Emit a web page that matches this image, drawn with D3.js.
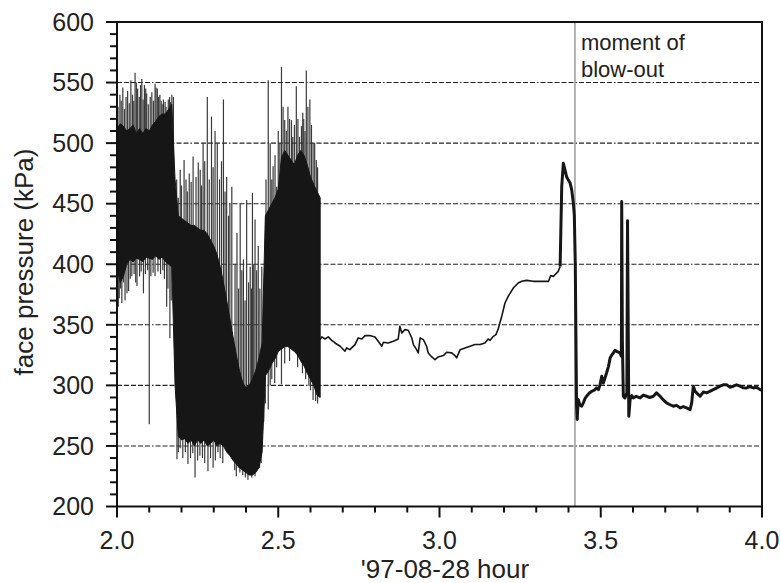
<!DOCTYPE html>
<html>
<head>
<meta charset="utf-8">
<script src="https://cdn.jsdelivr.net/npm/d3@7"></script>
<style>
  body { margin: 0; background: #fff; }
  text { font-family: "Liberation Sans", Arial, sans-serif; fill: #222; }
</style>
</head>
<body>
<div id="chart"></div>
<script>
// dense oscillating record 2.00 - 2.63 h: core envelope of the black band
var bandT = [2.00, 2.01, 2.02, 2.03, 2.04, 2.05, 2.06, 2.07, 2.08, 2.09,
  2.10, 2.11, 2.12, 2.13, 2.14, 2.15, 2.16, 2.17, 2.18, 2.19,
  2.20, 2.21, 2.22, 2.23, 2.24, 2.25, 2.26, 2.27, 2.28, 2.29,
  2.30, 2.31, 2.32, 2.33, 2.34, 2.35, 2.36, 2.37, 2.38, 2.39,
  2.40, 2.41, 2.42, 2.43, 2.44, 2.45, 2.46, 2.47, 2.48, 2.49,
  2.50, 2.51, 2.52, 2.53, 2.54, 2.55, 2.56, 2.57, 2.58, 2.59,
  2.60, 2.61, 2.62, 2.63]
var bandHi = [512, 516, 514, 510, 512, 515, 508, 512, 508, 512,
  510, 515, 518, 522, 524, 524, 528, 532, 470, 440,
  438, 436, 434, 432, 432, 430, 428, 428, 425, 420,
  415, 408, 398, 385, 370, 355, 340, 325, 312, 302,
  298, 300, 305, 312, 322, 335, 440, 445, 450, 455,
  462, 488, 494, 490, 486, 482, 490, 494, 490, 482,
  472, 466, 460, 455]
var bandLo = [398, 385, 390, 400, 404, 402, 405, 404, 402, 406,
  405, 404, 407, 404, 406, 402, 400, 398, 300, 258,
  255, 256, 252, 255, 250, 255, 252, 255, 250, 252,
  255, 250, 252, 250, 245, 242, 238, 235, 232, 230,
  228, 226, 226, 228, 232, 245, 308, 312, 318, 322,
  328, 330, 332, 332, 330, 328, 325, 320, 316, 310,
  305, 300, 292, 290]

// single excursions sticking out of the band
var upT = [2.003, 2.009, 2.013, 2.018, 2.023, 2.028, 2.033, 2.038, 2.043, 2.048,
  2.052, 2.056, 2.060, 2.064, 2.069, 2.073, 2.077, 2.081, 2.085, 2.089,
  2.092, 2.097, 2.103, 2.108, 2.113, 2.118, 2.121, 2.125, 2.129, 2.133,
  2.137, 2.140, 2.144, 2.149, 2.152, 2.159, 2.163, 2.166, 2.170, 2.175,
  2.185, 2.190, 2.196, 2.200, 2.208, 2.214, 2.218, 2.224, 2.230, 2.236,
  2.245, 2.252, 2.258, 2.262, 2.267, 2.272, 2.280, 2.286, 2.293, 2.298,
  2.304, 2.311, 2.318, 2.324, 2.330, 2.335, 2.340, 2.346, 2.350, 2.356,
  2.366, 2.372, 2.377, 2.382, 2.387, 2.392, 2.397, 2.402, 2.408, 2.413,
  2.417, 2.420, 2.424, 2.428, 2.433, 2.438, 2.443, 2.449,
  2.462, 2.469, 2.475, 2.480, 2.484, 2.490, 2.495, 2.500, 2.505, 2.510,
  2.515, 2.520, 2.525, 2.530, 2.535, 2.541, 2.545, 2.550, 2.556, 2.561,
  2.566, 2.572, 2.576, 2.579, 2.583, 2.587, 2.592, 2.598, 2.603, 2.608,
  2.613, 2.618, 2.622]
var upV = [530, 540, 535, 546, 528, 538, 543, 533, 552, 540,
  535, 558, 550, 545, 538, 548, 553, 536, 548, 545,
  541, 532, 538, 542, 535, 549, 546, 545, 538, 540,
  535, 532, 536, 534, 530, 536, 538, 534, 540, 538,
  470, 455, 478, 465, 486, 470, 460, 475, 468, 489,
  472, 484, 478, 465, 500, 485, 538, 470, 522, 480,
  510, 500, 470, 485, 536, 460, 472, 440, 450, 464,
  400, 426, 380, 450, 395, 404, 370, 453, 385, 398,
  380, 459, 400, 437, 395, 415, 380, 398,
  470, 552, 500, 470, 481, 490, 464, 510, 500, 563,
  530, 519, 510, 530, 520, 519, 505, 515, 547, 520,
  505, 514, 525, 520, 510, 560, 530, 536, 515, 500,
  500, 486, 480]
var downT = [2.004, 2.007, 2.011, 2.015, 2.020, 2.025, 2.031, 2.036, 2.041, 2.046,
  2.053, 2.058, 2.062, 2.070, 2.075, 2.082, 2.088, 2.095, 2.100, 2.105,
  2.112, 2.118, 2.127, 2.135, 2.142, 2.147, 2.154, 2.158, 2.164, 2.168,
  2.172, 2.186, 2.190, 2.196, 2.204, 2.212, 2.220, 2.228, 2.235, 2.242,
  2.250, 2.257, 2.265, 2.272, 2.282, 2.290, 2.298, 2.305, 2.313, 2.320,
  2.328, 2.365, 2.370, 2.376, 2.381, 2.390, 2.398, 2.406, 2.412, 2.418,
  2.428, 2.435, 2.442, 2.447, 2.455, 2.460, 2.469, 2.475, 2.480, 2.489,
  2.495, 2.510, 2.520, 2.535, 2.560, 2.575, 2.585, 2.595, 2.600, 2.608,
  2.616, 2.622]
var downV = [365, 372, 380, 368, 385, 370, 376, 378, 388, 390,
  392, 385, 382, 390, 394, 376, 392, 395, 268, 390,
  393, 390, 394, 392, 395, 388, 365, 380, 339, 370,
  385, 239, 245, 248, 240, 245, 235, 240, 244, 224,
  238, 242, 240, 236, 229, 240, 232, 238, 245, 240,
  236, 230, 225, 232, 228, 226, 224, 222, 226, 224,
  225, 230, 232, 236, 270, 285, 280, 300, 305, 302,
  315, 301, 318, 320, 315, 310, 305, 300, 296, 288,
  287, 285]

// quiet stretch 2.63 - 3.37 h
var calmT = [2.630, 2.635, 2.645, 2.655, 2.666, 2.676, 2.692, 2.707, 2.712, 2.722,
  2.738, 2.748, 2.759, 2.769, 2.784, 2.800, 2.810, 2.821, 2.826, 2.841,
  2.857, 2.872, 2.877, 2.883, 2.893, 2.903, 2.914, 2.919, 2.929, 2.934,
  2.940, 2.950, 2.960, 2.965, 2.976, 2.986, 2.996, 3.012, 3.022, 3.038,
  3.048, 3.053, 3.064, 3.079, 3.095, 3.110, 3.126, 3.141, 3.151, 3.157,
  3.167, 3.175, 3.182, 3.193, 3.203, 3.213, 3.229, 3.244, 3.255, 3.270,
  3.291, 3.312, 3.338, 3.345, 3.353, 3.361, 3.368, 3.374]
var calmV = [337.8, 340.0, 338.3, 340.0, 337.2, 335.0, 332.3, 328.2, 330.9, 329.5,
  333.7, 339.2, 338.3, 341.1, 341.1, 340.0, 336.4, 332.3, 335.6, 335.0,
  336.4, 338.3, 348.8, 343.3, 346.0, 345.5, 339.2, 333.7, 329.5, 326.8,
  339.2, 337.8, 332.3, 326.8, 323.5, 321.3, 323.5, 324.6, 327.3, 326.8,
  324.6, 322.7, 329.5, 330.9, 332.3, 333.7, 333.7, 335.0, 338.3, 337.2,
  340.5, 341.9, 346.6, 357.0, 368.0, 373.5, 380.4, 384.5, 385.9, 386.7,
  385.9, 385.9, 385.9, 390.6, 390.0, 392.2, 394.1, 398.2]

// peak, blow-out and after 3.37 - 4.00 h
var blowT = [3.374, 3.379, 3.384, 3.389, 3.394, 3.399, 3.405, 3.410, 3.415, 3.418,
  3.421, 3.425, 3.427, 3.430, 3.435, 3.441, 3.446, 3.451, 3.456, 3.464,
  3.472, 3.480, 3.487, 3.493, 3.498, 3.503, 3.508, 3.513, 3.518, 3.524,
  3.529, 3.534, 3.539, 3.544, 3.549, 3.555, 3.560, 3.564, 3.565, 3.567,
  3.570, 3.575, 3.581, 3.583, 3.587, 3.591, 3.596, 3.601, 3.610, 3.622,
  3.632, 3.642, 3.652, 3.663, 3.673, 3.684, 3.694, 3.704, 3.715, 3.725,
  3.735, 3.746, 3.756, 3.766, 3.777, 3.782, 3.787, 3.792, 3.797, 3.808,
  3.818, 3.828, 3.838, 3.849, 3.860, 3.870, 3.880, 3.890, 3.900, 3.911,
  3.921, 3.932, 3.942, 3.952, 3.962, 3.973, 3.983, 3.994, 4.000]
var blowV = [398.2, 464.2, 483.4, 477.9, 472.4, 469.7, 467.0, 461.4, 450.5, 440.8,
  401.0, 282.8, 271.8, 288.3, 284.0, 282.8, 285.5, 289.0, 291.0, 293.5,
  295.1, 296.0, 297.9, 296.5, 300.6, 307.5, 302.0, 306.0, 310.2, 315.7,
  322.6, 325.0, 326.7, 329.0, 328.1, 327.5, 326.7, 324.0, 451.8, 337.7,
  291.0, 289.6, 293.8, 435.9, 274.5, 288.3, 291.5, 289.6, 291.0, 289.6,
  292.0, 291.0, 290.0, 291.0, 293.8, 291.0, 288.0, 285.5, 284.0, 282.8,
  283.5, 281.4, 282.5, 281.4, 280.0, 285.5, 299.3, 295.5, 293.8, 291.0,
  294.5, 293.8, 295.0, 296.5, 298.0, 299.3, 300.5, 300.6, 298.5, 299.3,
  300.5, 299.3, 298.0, 297.9, 299.0, 297.9, 298.5, 296.5, 296.0]

var blowOutT = 3.42
var xTicks = [2.0, 2.5, 3.0, 3.5, 4.0]
var xMinor = [2.1, 2.2, 2.3, 2.4, 2.6, 2.7, 2.8, 2.9, 3.1, 3.2, 3.3, 3.4, 3.6, 3.7, 3.8, 3.9]
var yTicks = [200, 250, 300, 350, 400, 450, 500, 550, 600]
var gridValues = [250, 300, 350, 400, 450, 500, 550]
var yMinor = [210, 220, 230, 240, 260, 270, 280, 290, 310, 320, 330, 340,
  360, 370, 380, 390, 410, 420, 430, 440, 460, 470, 480, 490,
  510, 520, 530, 540, 560, 570, 580, 590]

var width = 781
var height = 583
var plotLeft = 117
var plotRight = 762
var plotTop = 22
var plotBottom = 506.5
var inkColor = '#161616'

var svg = d3.select('#chart')
  .append('svg')
  .attr('width', width)
  .attr('height', height)
  .style('display', 'block')

var x = d3.scaleLinear().domain([2.0, 4.0]).range([plotLeft, plotRight])
var y = d3.scaleLinear().domain([200, 600]).range([plotBottom, plotTop])

// grid
svg.append('g')
  .selectAll('line')
  .data(gridValues)
  .enter()
  .append('line')
  .attr('x1', plotLeft)
  .attr('x2', plotRight)
  .attr('y1', function(d) { return y(d) })
  .attr('y2', function(d) { return y(d) })
  .attr('stroke', '#222')
  .attr('stroke-width', 1.1)
  .attr('stroke-dasharray', '5,2,5,2,5,2,5,2,5,2,1.5,2')

// blow-out marker
svg.append('line')
  .attr('x1', x(blowOutT))
  .attr('x2', x(blowOutT))
  .attr('y1', plotTop)
  .attr('y2', plotBottom)
  .attr('stroke', '#9a9a9a')
  .attr('stroke-width', 1.5)

svg.append('text')
  .attr('x', x(blowOutT) + 6)
  .attr('y', 50)
  .attr('font-size', 22)
  .text('moment of')
svg.append('text')
  .attr('x', x(blowOutT) + 6)
  .attr('y', 77)
  .attr('font-size', 22)
  .text('blow-out')

// spikes first, the band covers their inner ends
function bandMid(t) {
  var i = d3.bisectCenter(bandT, t)
  return (bandHi[i] + bandLo[i]) / 2
}

function drawSpikes(ts, vs) {
  svg.append('g')
    .selectAll('line')
    .data(d3.range(ts.length))
    .enter()
    .append('line')
    .attr('x1', function(i) { return x(ts[i]) })
    .attr('x2', function(i) { return x(ts[i]) })
    .attr('y1', function(i) { return y(vs[i]) })
    .attr('y2', function(i) { return y(bandMid(ts[i])) })
    .attr('stroke', '#3a3a3a')
    .attr('stroke-width', 1.2)
}
drawSpikes(upT, upV)
drawSpikes(downT, downV)

var area = d3.area()
  .x(function(i) { return x(bandT[i]) })
  .y0(function(i) { return y(bandLo[i]) })
  .y1(function(i) { return y(bandHi[i]) })
svg.append('path')
  .datum(d3.range(bandT.length))
  .attr('d', area)
  .attr('fill', inkColor)
  .attr('stroke', inkColor)
  .attr('stroke-width', 1)

// lines
function drawLine(ts, vs, w) {
  var line = d3.line()
    .x(function(i) { return x(ts[i]) })
    .y(function(i) { return y(vs[i]) })
  svg.append('path')
    .datum(d3.range(ts.length))
    .attr('d', line)
    .attr('fill', 'none')
    .attr('stroke', inkColor)
    .attr('stroke-width', w)
    .attr('stroke-linejoin', 'round')
}
drawLine(calmT, calmV, 1.6)
drawLine(blowT, blowV, 3)

// frame
svg.append('rect')
  .attr('x', plotLeft)
  .attr('y', plotTop)
  .attr('width', plotRight - plotLeft)
  .attr('height', plotBottom - plotTop)
  .attr('fill', 'none')
  .attr('stroke', '#111')
  .attr('stroke-width', 2)

// ticks, pointing outward
function yTickLines(values, len) {
  svg.append('g')
    .selectAll('line')
    .data(values)
    .enter()
    .append('line')
    .attr('x1', plotLeft - len)
    .attr('x2', plotLeft)
    .attr('y1', function(d) { return y(d) })
    .attr('y2', function(d) { return y(d) })
    .attr('stroke', '#111')
    .attr('stroke-width', 2)
}
function xTickLines(values, len) {
  svg.append('g')
    .selectAll('line')
    .data(values)
    .enter()
    .append('line')
    .attr('x1', function(d) { return x(d) })
    .attr('x2', function(d) { return x(d) })
    .attr('y1', plotBottom)
    .attr('y2', plotBottom + len)
    .attr('stroke', '#111')
    .attr('stroke-width', 2)
}
yTickLines(yTicks, 11)
yTickLines(yMinor, 7)
xTickLines(xTicks, 11)
xTickLines(xMinor, 6)

svg.append('g')
  .selectAll('text')
  .data(yTicks)
  .enter()
  .append('text')
  .attr('x', plotLeft - 23)
  .attr('y', function(d) { return y(d) })
  .attr('dy', '0.35em')
  .attr('text-anchor', 'end')
  .attr('font-size', 25)
  .text(d3.format('d'))

svg.append('g')
  .selectAll('text')
  .data(xTicks)
  .enter()
  .append('text')
  .attr('x', function(d) { return x(d) })
  .attr('y', 549)
  .attr('text-anchor', 'middle')
  .attr('font-size', 25)
  .text(d3.format('.1f'))

// titles
svg.append('text')
  .attr('transform', 'translate(33,262) rotate(-90)')
  .attr('text-anchor', 'middle')
  .attr('font-size', 26)
  .text('face pressure (kPa)')

svg.append('text')
  .attr('x', 445)
  .attr('y', 578)
  .attr('text-anchor', 'middle')
  .attr('font-size', 26)
  .text("'97-08-28 hour")
</script>
</body>
</html>
